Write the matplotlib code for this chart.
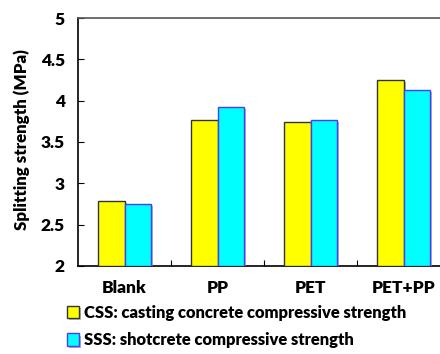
import numpy as np
import matplotlib
matplotlib.use('Agg')
import matplotlib.pyplot as plt
import matplotlib.patheffects as pe

plt.rcParams['font.family'] = ['Lato', 'DejaVu Sans']
plt.rcParams['font.weight'] = 'heavy'

# Dados
categorias = ['Blank', 'PP', 'PET', 'PET+PP']
css = [2.79, 3.77, 3.74, 4.25]
sss = [2.75, 3.92, 3.77, 4.13]
rotulos = ['CSS: casting concrete compressive strength',
           'SSS: shotcrete compressive strength']

fig = plt.figure(figsize=(4.4, 3.54), dpi=100)
ax = fig.add_axes([78/440, 88/354, 372/440, 248/354])

x = np.arange(len(categorias))
w = 0.287
sombra = [pe.SimplePatchShadow(offset=(1.5, -1.5), shadow_rgbFace='#888888', alpha=0.6), pe.Normal()]
b1 = ax.bar(x - w/2, np.array(css) - 2, w, bottom=2, color='#ffff00', edgecolor='#333333',
            linewidth=1.0, label=rotulos[0], path_effects=sombra, zorder=3)
b2 = ax.bar(x + w/2, np.array(sss) - 2, w, bottom=2, color='#00ffff', edgecolor='#4a3cff',
            linewidth=1.0, label=rotulos[1], path_effects=sombra, zorder=3)

ax.set_xlim(-0.5, 3.5)
ax.set_ylim(2, 5)
ax.set_yticks([2, 2.5, 3, 3.5, 4, 4.5, 5])
ax.set_yticklabels(['2', '2.5', '3', '3.5', '4', '4.5', '5'])
ax.set_xticks([0.5, 1.5, 2.5])
ax.set_xticklabels([])
ax.tick_params(axis='y', direction='in', length=4, labelsize=12.5, pad=9.5)
ax.tick_params(axis='x', direction='in', length=4)
for i, c in enumerate(categorias):
    ax.text(i, 1.73, c, ha='center', va='center', fontsize=12.5, fontweight='heavy')

ax.spines['top'].set_color('#555555')
ax.spines['top'].set_linewidth(1.2)
ax.spines['left'].set_linewidth(1.2)
ax.spines['bottom'].set_linewidth(1.2)

fig.text(22/440, 1 - 140/354, 'Splitting strength (MPa)', rotation=90, ha='center', va='center',
         fontsize=12.2, fontweight='heavy')

fig.legend(handles=[b1, b2], loc='upper left', bbox_to_anchor=(67/440, 1 - 305/354),
           frameon=False, borderpad=0, borderaxespad=0, handlelength=0.75, handleheight=0.75,
           handletextpad=0.3, labelspacing=0.68, prop={'size': 11.9, 'weight': 'heavy'})

fig.savefig('out.png', dpi=100)
